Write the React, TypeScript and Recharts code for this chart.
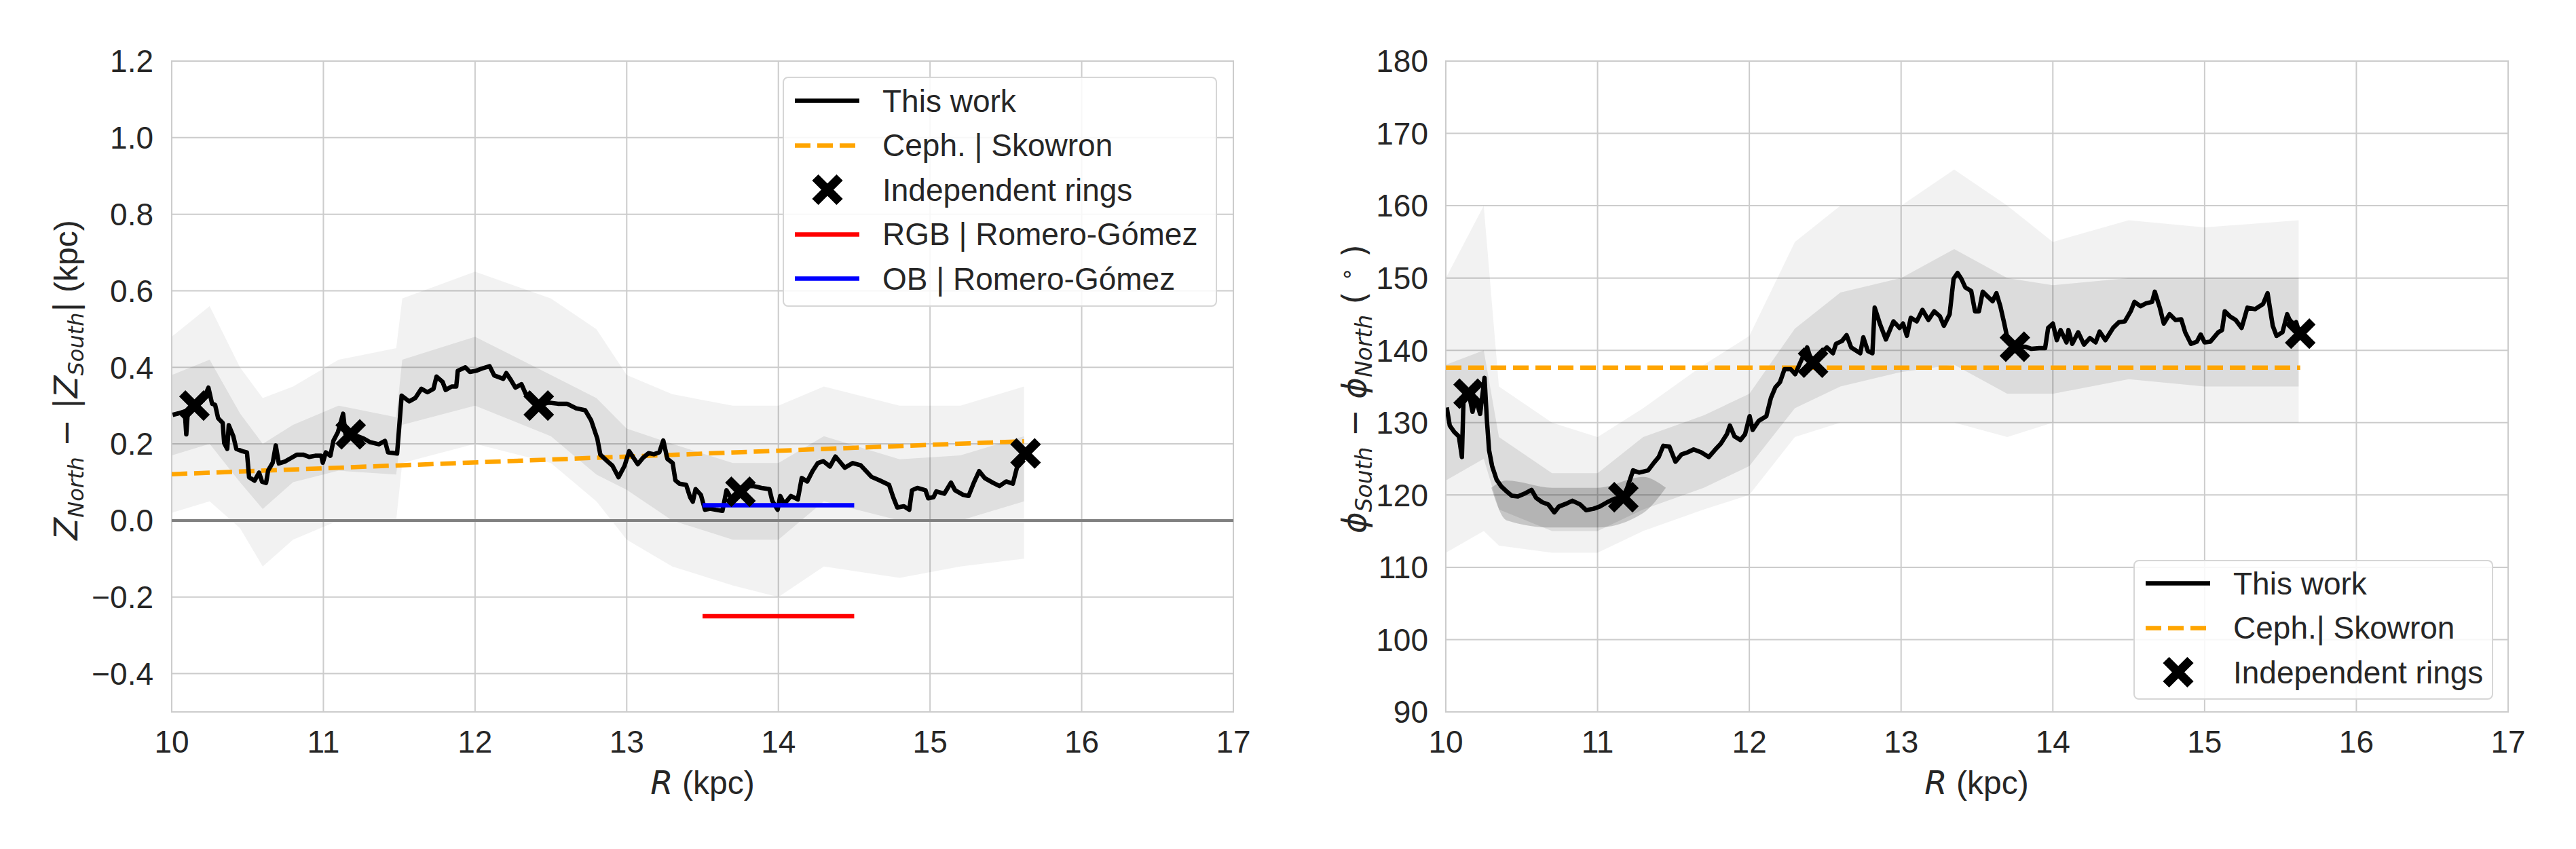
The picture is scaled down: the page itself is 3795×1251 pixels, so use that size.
import React from "react"
import {
  ComposedChart,
  Line,
  Area,
  Scatter,
  XAxis,
  YAxis,
  CartesianGrid,
  ReferenceLine,
  ReferenceArea,
  Legend,
  Label,
} from "recharts"

const FONT = '"Liberation Sans", Arial, sans-serif'
const MATH = '"DejaVu Sans", sans-serif'
const INK = "#262626"
const GRID = "#cccccc"

// axes
const xTicks = [10, 11, 12, 13, 14, 15, 16, 17]
const zTicks = [-0.4, -0.2, 0, 0.2, 0.4, 0.6, 0.8, 1.0, 1.2]
const phiTicks = [90, 100, 110, 120, 130, 140, 150, 160, 170, 180]

// left panel: Z_North - |Z_South|, this work
const zR = [
  10.006, 10.046, 10.086, 10.096, 10.106, 10.156, 10.206, 10.242, 10.266, 10.286,
  10.306, 10.336, 10.346, 10.366, 10.376, 10.406, 10.426, 10.466, 10.496, 10.51,
  10.546, 10.576, 10.596, 10.622, 10.636, 10.666, 10.686, 10.706, 10.746, 10.786,
  10.826, 10.866, 10.906, 10.946, 10.986, 10.996, 11.016, 11.046, 11.066, 11.096,
  11.13, 11.146, 11.176, 11.226, 11.266, 11.306, 11.366, 11.406, 11.426, 11.486,
  11.516, 11.566, 11.606, 11.646, 11.686, 11.726, 11.746, 11.786, 11.806, 11.846,
  11.876, 11.886, 11.936, 11.966, 12.006, 12.046, 12.096, 12.126, 12.186, 12.206,
  12.236, 12.266, 12.306, 12.336, 12.416, 12.486, 12.546, 12.606, 12.666, 12.726,
  12.766, 12.806, 12.826, 12.866, 12.906, 12.946, 12.986, 13.016, 13.046, 13.073,
  13.108, 13.144, 13.179, 13.215, 13.241, 13.268, 13.303, 13.321, 13.348, 13.392,
  13.418, 13.436, 13.454, 13.489, 13.516, 13.55, 13.587, 13.631, 13.658, 13.693,
  13.746, 13.782, 13.835, 13.888, 13.941, 13.959, 13.995, 14.012, 14.039, 14.083,
  14.128, 14.154, 14.19, 14.225, 14.26, 14.296, 14.34, 14.376, 14.402, 14.438,
  14.49, 14.543, 14.579, 14.614, 14.667, 14.73, 14.757, 14.784, 14.828, 14.863,
  14.881, 14.916, 14.97, 14.988, 15.023, 15.041, 15.094, 15.138, 15.165, 15.218,
  15.254, 15.289, 15.324, 15.36, 15.413, 15.458, 15.502, 15.546, 15.573, 15.62,
]
const zVal = [
  0.276, 0.28, 0.285, 0.225, 0.285, 0.296, 0.314, 0.347, 0.305, 0.302,
  0.267, 0.255, 0.202, 0.187, 0.249, 0.22, 0.187, 0.181, 0.178, 0.113,
  0.104, 0.125, 0.101, 0.098, 0.131, 0.151, 0.196, 0.149, 0.154, 0.163,
  0.172, 0.172, 0.166, 0.169, 0.169, 0.151, 0.178, 0.169, 0.208, 0.231,
  0.279, 0.225, 0.222, 0.22, 0.214, 0.205, 0.199, 0.208, 0.178, 0.175,
  0.326, 0.311, 0.32, 0.344, 0.335, 0.344, 0.376, 0.362, 0.341, 0.35,
  0.35, 0.391, 0.4, 0.388, 0.391, 0.397, 0.403, 0.379, 0.37, 0.385,
  0.367, 0.347, 0.356, 0.329, 0.3, 0.308, 0.305, 0.305, 0.293, 0.288,
  0.261, 0.214, 0.172, 0.157, 0.143, 0.113, 0.143, 0.181, 0.163, 0.147,
  0.164, 0.176, 0.173, 0.178, 0.209, 0.161, 0.15, 0.105, 0.096, 0.093,
  0.061, 0.049, 0.082, 0.067, 0.028, 0.031, 0.028, 0.025, 0.079, 0.055,
  0.072, 0.09, 0.09, 0.085, 0.082, 0.052, 0.028, 0.064, 0.043, 0.064,
  0.055, 0.111, 0.102, 0.129, 0.15, 0.155, 0.141, 0.167, 0.155, 0.138,
  0.15, 0.144, 0.129, 0.114, 0.105, 0.093, 0.061, 0.034, 0.037, 0.028,
  0.079, 0.085, 0.079, 0.058, 0.061, 0.076, 0.07, 0.099, 0.079, 0.067,
  0.064, 0.099, 0.129, 0.111, 0.099, 0.09, 0.102, 0.096, 0.138, 0.158,
]

// left panel: sample cloud (faint envelope and dense core)
const zCloudR = [10, 10.25, 10.45, 10.6, 10.8, 11.1, 11.48, 11.52, 12.0, 12.5, 12.8, 13.0, 13.3, 13.7, 14.0, 14.3, 14.8, 15.2, 15.62]
const zOuterLo = [0.02, 0.05, -0.02, -0.12, -0.05, 0.0, 0.0, 0.15, 0.2, 0.15, 0.05, -0.05, -0.12, -0.17, -0.2, -0.12, -0.15, -0.12, -0.1]
const zOuterHi = [0.48, 0.56, 0.4, 0.32, 0.35, 0.42, 0.45, 0.58, 0.65, 0.58, 0.5, 0.38, 0.33, 0.3, 0.3, 0.35, 0.3, 0.3, 0.35]
const zInnerLo = [0.17, 0.2, 0.1, 0.03, 0.1, 0.13, 0.12, 0.25, 0.3, 0.22, 0.12, 0.08, 0.0, -0.05, -0.05, 0.05, 0.0, 0.0, 0.05]
const zInnerHi = [0.38, 0.42, 0.28, 0.2, 0.25, 0.3, 0.27, 0.42, 0.48, 0.38, 0.32, 0.24, 0.2, 0.15, 0.15, 0.22, 0.16, 0.17, 0.22]

// left panel: references
const zSkowronR = [10, 15.62]
const zSkowronVal = [0.121, 0.207]
const rgbR = [13.5, 14.5]
const rgbVal = [-0.25, -0.25]
const obR = [13.5, 14.5]
const obVal = [0.04, 0.04]
const ringR = [10.15, 11.18, 12.42, 13.75, 15.63]
const zRing = [0.3, 0.225, 0.3, 0.075, 0.175]

// right panel: phi_South - phi_North, this work
const pR = [
  10.006, 10.026, 10.056, 10.086, 10.106, 10.116, 10.152, 10.176, 10.196, 10.226,
  10.255, 10.271, 10.285, 10.305, 10.335, 10.365, 10.395, 10.435, 10.475, 10.525,
  10.565, 10.595, 10.635, 10.675, 10.715, 10.745, 10.794, 10.834, 10.884, 10.924,
  10.974, 11.014, 11.064, 11.114, 11.164, 11.194, 11.234, 11.273, 11.333, 11.373,
  11.403, 11.433, 11.473, 11.513, 11.553, 11.593, 11.633, 11.683, 11.733, 11.772,
  11.812, 11.852, 11.872, 11.902, 11.942, 11.972, 12.002, 12.022, 12.062, 12.112,
  12.142, 12.172, 12.202, 12.232, 12.272, 12.302, 12.331, 12.381, 12.411, 12.471,
  12.511, 12.551, 12.571, 12.611, 12.641, 12.671, 12.731, 12.751, 12.781, 12.811,
  12.826, 12.86, 12.9, 12.95, 12.99, 13.013, 13.038, 13.064, 13.103, 13.141,
  13.18, 13.218, 13.256, 13.282, 13.32, 13.346, 13.372, 13.397, 13.423, 13.462,
  13.487, 13.513, 13.538, 13.577, 13.603, 13.628, 13.654, 13.68, 13.705, 13.744,
  13.82, 13.859, 13.91, 13.949, 13.969, 14.0, 14.026, 14.051, 14.09, 14.103,
  14.128, 14.167, 14.205, 14.244, 14.282, 14.308, 14.346, 14.397, 14.436, 14.474,
  14.513, 14.538, 14.577, 14.615, 14.654, 14.672, 14.705, 14.731, 14.769, 14.808,
  14.846, 14.872, 14.91, 14.949, 14.974, 15.0, 15.038, 15.09, 15.115, 15.133,
  15.167, 15.205, 15.244, 15.282, 15.333, 15.385, 15.415, 15.449, 15.474, 15.513,
  15.544, 15.577, 15.603, 15.628,
]
const pVal = [
  132.1, 129.6, 128.7, 128.1, 125.25, 132.75, 134.0, 131.5, 133.4, 131.2,
  136.2, 130.25, 126.2, 124.0, 122.1, 121.2, 120.6, 119.9, 119.8, 120.25,
  120.7, 119.6, 119.0, 118.7, 117.6, 118.4, 118.8, 119.2, 118.7, 117.9,
  118.1, 118.4, 119.0, 119.5, 119.6, 120.9, 123.4, 123.1, 123.4, 124.5,
  125.25, 126.8, 126.7, 124.6, 125.6, 125.9, 126.3, 125.9, 125.25, 126.2,
  127.1, 128.4, 129.6, 128.1, 127.6, 128.4, 130.9, 129.0, 130.25, 130.9,
  133.4, 134.9, 135.6, 137.4, 137.4, 136.7, 138.1, 140.4, 138.4, 139.6,
  140.4, 139.6, 140.9, 141.3, 142.1, 140.4, 139.6, 141.8, 139.9, 139.6,
  145.9, 143.7, 141.5, 144.0, 143.1, 143.7, 142.0, 144.5, 144.0, 145.6,
  144.2, 145.4, 144.7, 143.4, 145.0, 149.9, 150.7, 149.9, 148.7, 148.2,
  145.4, 145.4, 148.1, 147.3, 146.8, 147.9, 146.1, 143.7, 141.2, 140.5,
  140.5, 140.2, 140.3, 140.3, 143.1, 143.7, 141.4, 142.8, 141.1, 142.8,
  140.9, 142.5, 140.8, 141.7, 141.1, 142.6, 141.4, 143.1, 143.9, 144.0,
  145.4, 146.7, 146.1, 146.5, 146.7, 148.1, 145.9, 143.7, 145.0, 144.2,
  144.3, 142.5, 140.9, 141.2, 142.2, 141.1, 141.2, 142.5, 142.8, 145.4,
  144.7, 144.2, 143.1, 145.9, 145.7, 146.4, 147.9, 143.4, 142.0, 142.5,
  145.0, 143.4, 143.9, 142.2,
]

// right panel: sample cloud
const pCloudR = [10, 10.25, 10.35, 10.7, 11.0, 11.3, 11.7, 12.0, 12.3, 12.6, 13.0, 13.35, 13.7, 14.0, 14.5, 15.0, 15.62]
const pOuterLo = [112, 115, 113, 112, 112, 115, 118, 120, 128, 130, 130, 130, 128, 130, 130, 130, 130]
const pOuterHi = [150, 160, 135, 130, 128, 132, 138, 142, 155, 160, 160, 165, 160, 155, 158, 157, 158]
const pInnerLo = [122, 125, 118, 115, 115, 118, 121, 124, 132, 135, 137, 138, 134, 134, 136, 135, 135]
const pInnerHi = [138, 140, 128, 123, 123, 128, 131, 134, 143, 148, 150, 154, 150, 149, 150, 150, 150]
// darkest part of the cloud, around the minimum
const pCoreR = [10.3, 10.4, 10.7, 11.0, 11.3, 11.45]
const pCoreLo = [121, 116.5, 115.5, 115.5, 117.5, 121]
const pCoreHi = [121, 122, 121, 121, 122.5, 121]

const pSkowronR = [10, 15.63]
const pSkowronVal = [137.6, 137.6]
const pRing = [134.0, 119.7, 138.3, 140.5, 142.3]
const pRingR = [10.15, 11.17, 12.42, 13.75, 15.63]

const pts = (xs: number[], ys: number[]) => xs.map((R, i) => ({ R, v: ys[i] }))
const band = (xs: number[], lo: number[], hi: number[]) =>
  xs.map((R, i) => ({ R, v: [lo[i], hi[i]] }))

const fmtZ = (v: number) => v.toFixed(1).replace("-", "\u2212")

const tickStyle = { fontSize: 46, fill: INK, fontFamily: FONT }

function XMark(props: any) {
  const { cx, cy } = props
  if (cx == null || cy == null) return null
  const s = 18
  return (
    <path
      d={`M${cx - s},${cy - s}L${cx + s},${cy + s}M${cx - s},${cy + s}L${cx + s},${cy - s}`}
      stroke="#000"
      strokeWidth={13}
      fill="none"
    />
  )
}

type Item = { label: string; kind: "line" | "dash" | "x"; color: string }

function LegendBox({ items, width, height, padTop }: { items: Item[]; width: number; height: number; padTop: number }) {
  return (
    <div
      style={{
        boxSizing: "border-box",
        width,
        height,
        paddingTop: padTop,
        background: "rgba(255,255,255,0.85)",
        border: "2px solid #d6d6d6",
        borderRadius: 8,
        fontFamily: FONT,
        fontSize: 46,
        color: INK,
      }}
    >
      {items.map((it) => (
        <div key={it.label} style={{ display: "flex", alignItems: "center", height: 65.5 }}>
          <svg width={145} height={65} style={{ flex: "none" }}>
            {it.kind === "x" ? (
              <XMark cx={64} cy={32.5} />
            ) : (
              <line
                x1={16}
                x2={111}
                y1={32.5}
                y2={32.5}
                stroke={it.color}
                strokeWidth={6.5}
                strokeDasharray={it.kind === "dash" ? "23 10" : undefined}
              />
            )}
          </svg>
          <span style={{ whiteSpace: "nowrap" }}>{it.label}</span>
        </div>
      ))}
    </div>
  )
}

const leftItems: Item[] = [
  { label: "This work", kind: "line", color: "#000" },
  { label: "Ceph. | Skowron", kind: "dash", color: "orange" },
  { label: "Independent rings", kind: "x", color: "#000" },
  { label: "RGB | Romero-Gómez", kind: "line", color: "red" },
  { label: "OB | Romero-Gómez", kind: "line", color: "blue" },
]
const rightItems: Item[] = [
  { label: "This work", kind: "line", color: "#000" },
  { label: "Ceph.| Skowron", kind: "dash", color: "orange" },
  { label: "Independent rings", kind: "x", color: "#000" },
]

function XTitle({ x, y }: { x: number; y: number }) {
  return (
    <text x={x} y={y} textAnchor="middle" fontSize={48} fill={INK} fontFamily={FONT}>
      <tspan fontFamily={MATH} fontStyle="italic">R</tspan>
      <tspan> (kpc)</tspan>
    </text>
  )
}

function ZTitle() {
  return (
    <text transform="translate(114,560) rotate(-90)" textAnchor="middle" fontSize={48} fill={INK} fontFamily={MATH}>
      <tspan fontStyle="italic">Z</tspan>
      <tspan fontStyle="italic" fontSize={32} dy={9}>North</tspan>
      <tspan dy={-9}> − |</tspan>
      <tspan fontStyle="italic">Z</tspan>
      <tspan fontStyle="italic" fontSize={32} dy={9}>South</tspan>
      <tspan dy={-9}>|</tspan>
      <tspan fontFamily={FONT}> (kpc)</tspan>
    </text>
  )
}

function PhiTitle() {
  return (
    <text transform="translate(112,573) rotate(-90)" textAnchor="middle" fontSize={48} fill={INK} fontFamily={MATH}>
      <tspan fontStyle="italic">ϕ</tspan>
      <tspan fontStyle="italic" fontSize={33} dy={9}>South</tspan>
      <tspan dy={-9}> − </tspan>
      <tspan fontStyle="italic">ϕ</tspan>
      <tspan fontStyle="italic" fontSize={33} dy={9}>North</tspan>
      <tspan dy={-9}>  (  </tspan>
      <tspan fontSize={33} dy={-17}>∘</tspan>
      <tspan dy={17}>  )</tspan>
    </text>
  )
}

function LeftPanel() {
  return (
    <ComposedChart width={1900} height={1251} margin={{ top: 90, right: 83, bottom: 142, left: 133 }}>
      <CartesianGrid stroke={GRID} strokeWidth={2} />
      <XAxis
        dataKey="R"
        type="number"
        domain={[10, 17]}
        ticks={xTicks}
        interval={0}
        allowDataOverflow
        height={60}
        axisLine={false}
        tickLine={false}
        tickSize={0}
        tickMargin={27}
        tick={tickStyle}
      >
        <Label content={() => <XTitle x={1035} y={1170} />} />
      </XAxis>
      <YAxis
        type="number"
        domain={[-0.5, 1.2]}
        ticks={zTicks}
        interval={0}
        allowDataOverflow
        width={120}
        axisLine={false}
        tickLine={false}
        tickSize={0}
        tickMargin={27}
        tick={tickStyle}
        tickFormatter={fmtZ}
      >
        <Label content={() => <ZTitle />} />
      </YAxis>
      <Area data={band(zCloudR, zOuterLo, zOuterHi)} dataKey="v" type="linear" stroke="none" fill="#000" fillOpacity={0.05} isAnimationActive={false} />
      <Area data={band(zCloudR, zInnerLo, zInnerHi)} dataKey="v" type="linear" stroke="none" fill="#000" fillOpacity={0.08} isAnimationActive={false} />
      <ReferenceLine y={0} stroke="#808080" strokeWidth={4} />
      <Line data={pts(zSkowronR, zSkowronVal)} dataKey="v" stroke="orange" strokeWidth={6.5} strokeDasharray="23 10" dot={false} activeDot={false} isAnimationActive={false} />
      <Line data={pts(zR, zVal)} dataKey="v" type="linear" stroke="#000" strokeWidth={6.5} strokeLinejoin="round" dot={false} activeDot={false} isAnimationActive={false} />
      <Line data={pts(rgbR, rgbVal)} dataKey="v" stroke="red" strokeWidth={6.5} dot={false} activeDot={false} isAnimationActive={false} />
      <Line data={pts(obR, obVal)} dataKey="v" stroke="blue" strokeWidth={6.5} dot={false} activeDot={false} isAnimationActive={false} />
      <Scatter data={pts(ringR, zRing)} dataKey="v" shape={XMark} isAnimationActive={false} />
      <ReferenceArea x1={10} x2={17} y1={-0.5} y2={1.2} fill="none" stroke={GRID} strokeWidth={2} />
      <Legend
        layout="horizontal"
        verticalAlign="middle"
        align="center"
        wrapperStyle={{ left: 1153, top: 113, width: 640 }}
        content={() => <LegendBox items={leftItems} width={640} height={339} padTop={1} />}
      />
    </ComposedChart>
  )
}

function RightPanel() {
  return (
    <ComposedChart width={1895} height={1251} margin={{ top: 90, right: 100, bottom: 142, left: 110 }}>
      <CartesianGrid stroke={GRID} strokeWidth={2} />
      <XAxis
        dataKey="R"
        type="number"
        domain={[10, 17]}
        ticks={xTicks}
        interval={0}
        allowDataOverflow
        height={60}
        axisLine={false}
        tickLine={false}
        tickSize={0}
        tickMargin={27}
        tick={tickStyle}
      >
        <Label content={() => <XTitle x={1012} y={1170} />} />
      </XAxis>
      <YAxis
        type="number"
        domain={[90, 180]}
        ticks={phiTicks}
        interval={0}
        allowDataOverflow
        width={120}
        axisLine={false}
        tickLine={false}
        tickSize={0}
        tickMargin={26}
        tick={tickStyle}
      >
        <Label content={() => <PhiTitle />} />
      </YAxis>
      <Area data={band(pCloudR, pOuterLo, pOuterHi)} dataKey="v" type="linear" stroke="none" fill="#000" fillOpacity={0.05} isAnimationActive={false} />
      <Area data={band(pCloudR, pInnerLo, pInnerHi)} dataKey="v" type="linear" stroke="none" fill="#000" fillOpacity={0.09} isAnimationActive={false} />
      <Area data={band(pCoreR, pCoreLo, pCoreHi)} dataKey="v" type="monotone" stroke="none" fill="#000" fillOpacity={0.18} isAnimationActive={false} />
      <Line data={pts(pSkowronR, pSkowronVal)} dataKey="v" stroke="orange" strokeWidth={6.5} strokeDasharray="23 10" dot={false} activeDot={false} isAnimationActive={false} />
      <Line data={pts(pR, pVal)} dataKey="v" type="linear" stroke="#000" strokeWidth={6.5} strokeLinejoin="round" dot={false} activeDot={false} isAnimationActive={false} />
      <Scatter data={pts(pRingR, pRing)} dataKey="v" shape={XMark} isAnimationActive={false} />
      <ReferenceArea x1={10} x2={17} y1={90} y2={180} fill="none" stroke={GRID} strokeWidth={2} />
      <Legend
        layout="horizontal"
        verticalAlign="middle"
        align="center"
        wrapperStyle={{ left: 1243, top: 825, width: 530 }}
        content={() => <LegendBox items={rightItems} width={530} height={206} padTop={0} />}
      />
    </ComposedChart>
  )
}

export default function App() {
  return (
    <div style={{ position: "absolute", left: 0, top: 0, width: 3795, height: 1251, background: "#fff" }}>
      <div style={{ position: "absolute", left: 0, top: 0 }}>
        <LeftPanel />
      </div>
      <div style={{ position: "absolute", left: 1900, top: 0 }}>
        <RightPanel />
      </div>
    </div>
  )
}
